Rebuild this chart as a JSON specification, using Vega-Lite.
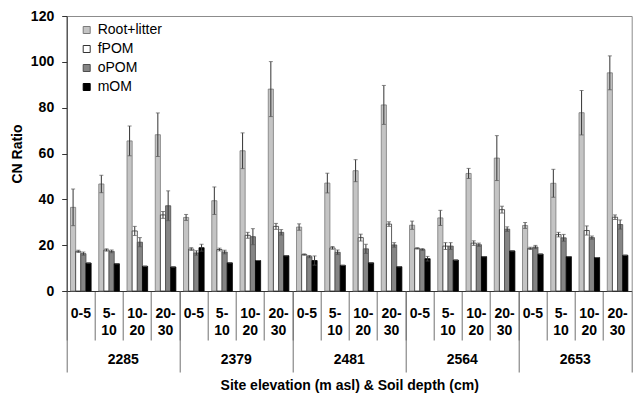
{
  "$schema": "https://vega.github.io/schema/vega-lite/v6.json",
  "width": 565,
  "height": 275,
  "autosize": {"type": "none"},
  "padding": {"left": 66.7, "top": 16, "right": 3.3, "bottom": 106},
  "background": "white",
  "config": {
    "font": "Liberation Sans",
    "view": {"stroke": "#8c8c8c", "strokeWidth": 1},
    "axis": {"grid": false, "labelColor": "#000", "titleColor": "#000", "labelFont": "Liberation Sans", "titleFont": "Liberation Sans"}
  },
  "data": {
    "values": [
      {"s": "2285|0-5", "f": "Root+litter", "v": 36.5, "lo": 28.5, "hi": 44.5},
      {"s": "2285|0-5", "f": "fPOM", "v": 17.3, "lo": 16.8, "hi": 17.8},
      {"s": "2285|0-5", "f": "oPOM", "v": 16.3, "lo": 15.6, "hi": 17.0},
      {"s": "2285|0-5", "f": "mOM", "v": 12.2, "lo": 12.2, "hi": 12.2},
      {"s": "2285|5-10", "f": "Root+litter", "v": 46.7, "lo": 42.9, "hi": 50.5},
      {"s": "2285|5-10", "f": "fPOM", "v": 17.9, "lo": 17.4, "hi": 18.4},
      {"s": "2285|5-10", "f": "oPOM", "v": 17.3, "lo": 16.7, "hi": 17.9},
      {"s": "2285|5-10", "f": "mOM", "v": 11.9, "lo": 11.9, "hi": 11.9},
      {"s": "2285|10-20", "f": "Root+litter", "v": 65.5, "lo": 59.0, "hi": 72.0},
      {"s": "2285|10-20", "f": "fPOM", "v": 26.2, "lo": 24.2, "hi": 28.2},
      {"s": "2285|10-20", "f": "oPOM", "v": 21.3, "lo": 19.3, "hi": 23.3},
      {"s": "2285|10-20", "f": "mOM", "v": 10.8, "lo": 10.8, "hi": 10.8},
      {"s": "2285|20-30", "f": "Root+litter", "v": 68.2, "lo": 58.7, "hi": 77.7},
      {"s": "2285|20-30", "f": "fPOM", "v": 33.2, "lo": 31.7, "hi": 34.7},
      {"s": "2285|20-30", "f": "oPOM", "v": 37.2, "lo": 30.7, "hi": 43.7},
      {"s": "2285|20-30", "f": "mOM", "v": 10.5, "lo": 10.5, "hi": 10.5},
      {"s": "2379|0-5", "f": "Root+litter", "v": 32.1, "lo": 30.8, "hi": 33.4},
      {"s": "2379|0-5", "f": "fPOM", "v": 18.3, "lo": 17.7, "hi": 18.9},
      {"s": "2379|0-5", "f": "oPOM", "v": 16.6, "lo": 15.6, "hi": 17.6},
      {"s": "2379|0-5", "f": "mOM", "v": 18.9, "lo": 17.4, "hi": 20.4},
      {"s": "2379|5-10", "f": "Root+litter", "v": 39.4, "lo": 33.4, "hi": 45.4},
      {"s": "2379|5-10", "f": "fPOM", "v": 18.1, "lo": 17.5, "hi": 18.7},
      {"s": "2379|5-10", "f": "oPOM", "v": 17.0, "lo": 16.2, "hi": 17.8},
      {"s": "2379|5-10", "f": "mOM", "v": 12.3, "lo": 12.3, "hi": 12.3},
      {"s": "2379|10-20", "f": "Root+litter", "v": 61.2, "lo": 53.4, "hi": 69.0},
      {"s": "2379|10-20", "f": "fPOM", "v": 24.3, "lo": 23.0, "hi": 25.6},
      {"s": "2379|10-20", "f": "oPOM", "v": 23.7, "lo": 20.2, "hi": 27.2},
      {"s": "2379|10-20", "f": "mOM", "v": 13.3, "lo": 13.3, "hi": 13.3},
      {"s": "2379|20-30", "f": "Root+litter", "v": 88.1, "lo": 76.1, "hi": 100.1},
      {"s": "2379|20-30", "f": "fPOM", "v": 28.2, "lo": 26.9, "hi": 29.5},
      {"s": "2379|20-30", "f": "oPOM", "v": 25.6, "lo": 24.4, "hi": 26.8},
      {"s": "2379|20-30", "f": "mOM", "v": 15.4, "lo": 15.4, "hi": 15.4},
      {"s": "2481|0-5", "f": "Root+litter", "v": 27.9, "lo": 26.5, "hi": 29.3},
      {"s": "2481|0-5", "f": "fPOM", "v": 15.9, "lo": 15.6, "hi": 16.2},
      {"s": "2481|0-5", "f": "oPOM", "v": 15.0, "lo": 14.5, "hi": 15.5},
      {"s": "2481|0-5", "f": "mOM", "v": 13.3, "lo": 11.3, "hi": 15.3},
      {"s": "2481|5-10", "f": "Root+litter", "v": 47.1, "lo": 42.8, "hi": 51.4},
      {"s": "2481|5-10", "f": "fPOM", "v": 18.8, "lo": 18.2, "hi": 19.4},
      {"s": "2481|5-10", "f": "oPOM", "v": 16.9, "lo": 15.9, "hi": 17.9},
      {"s": "2481|5-10", "f": "mOM", "v": 11.2, "lo": 11.2, "hi": 11.2},
      {"s": "2481|10-20", "f": "Root+litter", "v": 52.5, "lo": 47.7, "hi": 57.3},
      {"s": "2481|10-20", "f": "fPOM", "v": 23.3, "lo": 21.8, "hi": 24.8},
      {"s": "2481|10-20", "f": "oPOM", "v": 18.4, "lo": 16.4, "hi": 20.4},
      {"s": "2481|10-20", "f": "mOM", "v": 12.3, "lo": 12.3, "hi": 12.3},
      {"s": "2481|20-30", "f": "Root+litter", "v": 81.2, "lo": 72.7, "hi": 89.7},
      {"s": "2481|20-30", "f": "fPOM", "v": 29.2, "lo": 28.2, "hi": 30.2},
      {"s": "2481|20-30", "f": "oPOM", "v": 20.1, "lo": 19.1, "hi": 21.1},
      {"s": "2481|20-30", "f": "mOM", "v": 10.6, "lo": 10.6, "hi": 10.6},
      {"s": "2564|0-5", "f": "Root+litter", "v": 28.7, "lo": 26.9, "hi": 30.5},
      {"s": "2564|0-5", "f": "fPOM", "v": 18.6, "lo": 18.3, "hi": 18.9},
      {"s": "2564|0-5", "f": "oPOM", "v": 18.1, "lo": 17.7, "hi": 18.5},
      {"s": "2564|0-5", "f": "mOM", "v": 14.1, "lo": 13.1, "hi": 15.1},
      {"s": "2564|5-10", "f": "Root+litter", "v": 31.9, "lo": 28.6, "hi": 35.2},
      {"s": "2564|5-10", "f": "fPOM", "v": 19.6, "lo": 18.1, "hi": 21.1},
      {"s": "2564|5-10", "f": "oPOM", "v": 19.6, "lo": 18.1, "hi": 21.1},
      {"s": "2564|5-10", "f": "mOM", "v": 13.5, "lo": 13.5, "hi": 13.5},
      {"s": "2564|10-20", "f": "Root+litter", "v": 51.3, "lo": 49.1, "hi": 53.5},
      {"s": "2564|10-20", "f": "fPOM", "v": 20.9, "lo": 19.9, "hi": 21.9},
      {"s": "2564|10-20", "f": "oPOM", "v": 20.2, "lo": 19.5, "hi": 20.9},
      {"s": "2564|10-20", "f": "mOM", "v": 15.0, "lo": 15.0, "hi": 15.0},
      {"s": "2564|20-30", "f": "Root+litter", "v": 58.0, "lo": 48.2, "hi": 67.8},
      {"s": "2564|20-30", "f": "fPOM", "v": 35.5, "lo": 34.0, "hi": 37.0},
      {"s": "2564|20-30", "f": "oPOM", "v": 27.0, "lo": 26.0, "hi": 28.0},
      {"s": "2564|20-30", "f": "mOM", "v": 17.5, "lo": 17.5, "hi": 17.5},
      {"s": "2653|0-5", "f": "Root+litter", "v": 28.6, "lo": 27.3, "hi": 29.9},
      {"s": "2653|0-5", "f": "fPOM", "v": 18.6, "lo": 18.1, "hi": 19.1},
      {"s": "2653|0-5", "f": "oPOM", "v": 19.2, "lo": 18.5, "hi": 19.9},
      {"s": "2653|0-5", "f": "mOM", "v": 16.1, "lo": 16.1, "hi": 16.1},
      {"s": "2653|5-10", "f": "Root+litter", "v": 47.0, "lo": 40.9, "hi": 53.1},
      {"s": "2653|5-10", "f": "fPOM", "v": 24.6, "lo": 23.6, "hi": 25.6},
      {"s": "2653|5-10", "f": "oPOM", "v": 23.2, "lo": 21.7, "hi": 24.7},
      {"s": "2653|5-10", "f": "mOM", "v": 15.0, "lo": 15.0, "hi": 15.0},
      {"s": "2653|10-20", "f": "Root+litter", "v": 77.8, "lo": 68.1, "hi": 87.5},
      {"s": "2653|10-20", "f": "fPOM", "v": 26.4, "lo": 24.4, "hi": 28.4},
      {"s": "2653|10-20", "f": "oPOM", "v": 23.3, "lo": 22.6, "hi": 24.0},
      {"s": "2653|10-20", "f": "mOM", "v": 14.6, "lo": 14.6, "hi": 14.6},
      {"s": "2653|20-30", "f": "Root+litter", "v": 95.2, "lo": 87.8, "hi": 102.6},
      {"s": "2653|20-30", "f": "fPOM", "v": 32.2, "lo": 31.2, "hi": 33.2},
      {"s": "2653|20-30", "f": "oPOM", "v": 29.0, "lo": 27.0, "hi": 31.0},
      {"s": "2653|20-30", "f": "mOM", "v": 15.6, "lo": 15.6, "hi": 15.6}
    ]
  },
  "layer": [
    {
      "mark": {"type": "bar", "strokeWidth": 0.8},
      "encoding": {
        "x": {
          "field": "s", "type": "nominal", "sort": null,
          "scale": {"paddingInner": 0, "paddingOuter": 0},
          "axis": {
            "orient": "bottom", "title": null, "bandPosition": 0, "ticks": true,
            "tickSize": 49, "tickColor": "#707070", "tickWidth": 1,
            "domainColor": "#333333", "domainWidth": 1,
            "labelPadding": -34, "labelOffset": 0, "labelAngle": 0,
            "labelAlign": "center", "labelBaseline": "top",
            "labelFontSize": 14, "labelFontWeight": "bold", "labelLineHeight": 17,
            "labelOverlap": false, "labelBound": false, "labelFlush": false,
            "labelExpr": "split(datum.value,'|')[1] == '0-5' ? '0-5' : [split(split(datum.value,'|')[1],'-')[0] + '-', split(split(datum.value,'|')[1],'-')[1]]"
          }
        },
        "xOffset": {
          "field": "f", "type": "nominal",
          "scale": {"domain": ["Root+litter", "fPOM", "oPOM", "mOM"], "paddingInner": 0, "paddingOuter": 0.74}
        },
        "y": {
          "field": "v", "type": "quantitative", "title": "CN Ratio",
          "scale": {"domain": [0, 120], "nice": false},
          "axis": {
            "values": [0, 20, 40, 60, 80, 100, 120],
            "tickSize": 5, "tickColor": "#333333", "domainColor": "#333333",
            "labelFontSize": 14, "labelFontWeight": "bold", "labelPadding": 8,
            "titleFontSize": 14, "titleFontWeight": "bold", "titlePadding": 6
          }
        },
        "fill": {
          "field": "f", "type": "nominal",
          "scale": {"domain": ["Root+litter", "fPOM", "oPOM", "mOM"], "range": ["#c4c4c4", "#ffffff", "#858585", "#000000"]},
          "legend": {
            "orient": "none", "legendX": 13, "legendY": 7, "title": null,
            "symbolType": "square", "symbolSize": 49, "symbolStrokeWidth": 1,
            "labelFontSize": 14, "labelFont": "Liberation Sans", "labelColor": "#000",
            "labelOffset": 4, "rowPadding": 5, "padding": 0
          }
        },
        "stroke": {
          "field": "f", "type": "nominal",
          "scale": {"domain": ["Root+litter", "fPOM", "oPOM", "mOM"], "range": ["#7a7a7a", "#333333", "#4d4d4d", "#000000"]},
          "legend": {
            "orient": "none", "legendX": 13, "legendY": 7, "title": null,
            "symbolType": "square", "symbolSize": 49, "symbolStrokeWidth": 1,
            "labelFontSize": 14, "labelFont": "Liberation Sans", "labelColor": "#000",
            "labelOffset": 4, "rowPadding": 5, "padding": 0
          }
        }
      }
    },
    {
      "mark": {"type": "rule", "color": "#333333", "strokeWidth": 1},
      "encoding": {
        "x": {
          "field": "s", "type": "nominal", "sort": null,
          "axis": {
            "orient": "bottom", "values": ["2285|0-5", "2379|0-5", "2481|0-5", "2564|0-5", "2653|0-5"],
            "bandPosition": 0, "ticks": true, "tickSize": 81, "tickColor": "#707070", "tickWidth": 1,
            "domain": false, "labelPadding": -20, "labelOffset": 42.4, "labelAngle": 0,
            "labelAlign": "center", "labelBaseline": "top",
            "labelFontSize": 14, "labelFontWeight": "bold",
            "labelOverlap": false, "labelBound": false, "labelFlush": false,
            "labelExpr": "split(datum.value,'|')[0]",
            "title": "Site elevation (m asl) & Soil depth (cm)",
            "titleFontSize": 14, "titleFontWeight": "bold", "titlePadding": 6
          }
        },
        "xOffset": {"field": "f", "type": "nominal"},
        "y": {"field": "lo", "type": "quantitative", "title": "CN Ratio"},
        "y2": {"field": "hi"}
      }
    },
    {
      "mark": {"type": "tick", "color": "#555555", "thickness": 1, "size": 4},
      "encoding": {
        "x": {
          "field": "s", "type": "nominal", "sort": null,
          "axis": {
            "orient": "bottom", "values": ["2653|20-30"], "bandPosition": 1, "ticks": true,
            "tickSize": 81, "tickColor": "#707070", "tickWidth": 1,
            "domain": false, "labels": false, "title": null
          }
        },
        "xOffset": {"field": "f", "type": "nominal"},
        "y": {"field": "hi", "type": "quantitative", "title": "CN Ratio"}
      }
    },
    {
      "mark": {"type": "tick", "color": "#555555", "thickness": 1, "size": 4},
      "encoding": {
        "x": {"field": "s", "type": "nominal", "sort": null, "axis": null},
        "xOffset": {"field": "f", "type": "nominal"},
        "y": {"field": "lo", "type": "quantitative", "title": "CN Ratio"}
      }
    }
  ],
  "resolve": {"axis": {"x": "independent"}}
}
